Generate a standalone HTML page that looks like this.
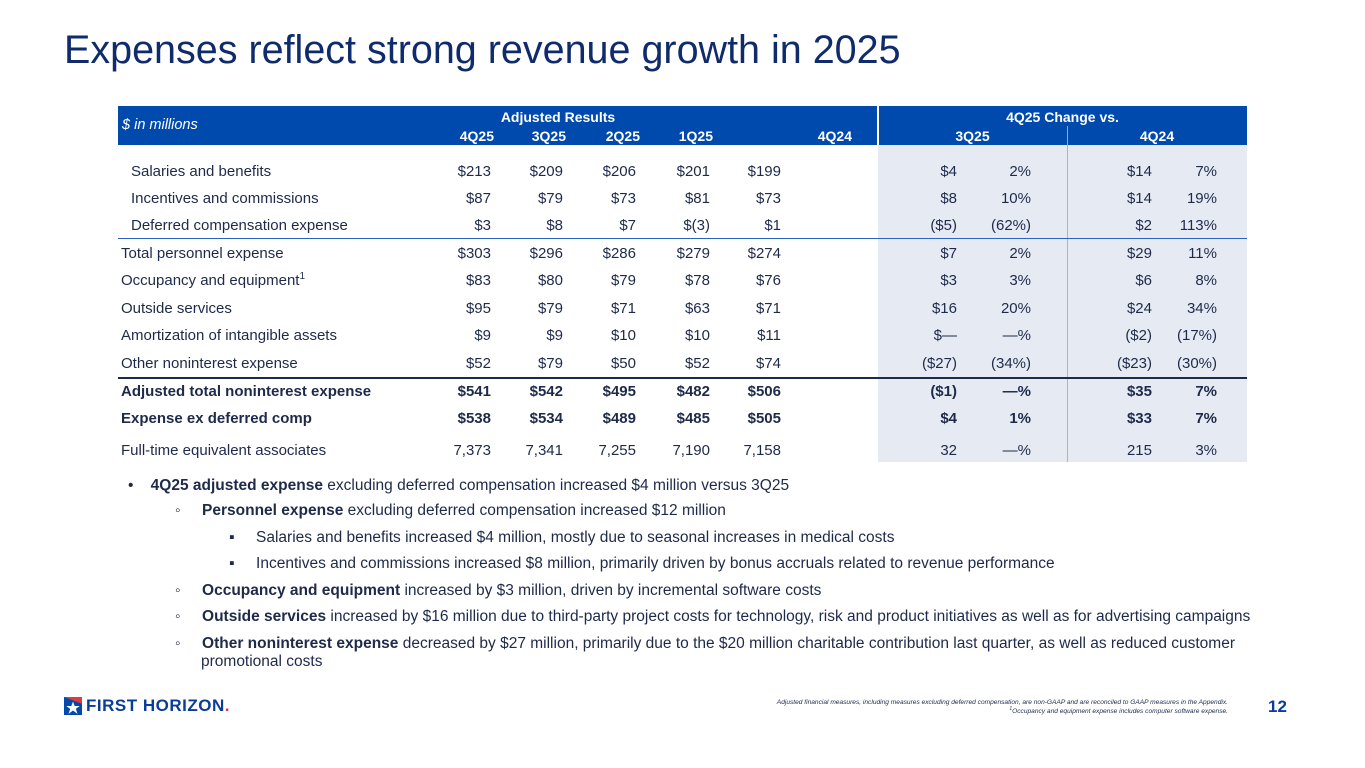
<!DOCTYPE html>
<html><head><meta charset="utf-8">
<style>
*{margin:0;padding:0;box-sizing:border-box}
body{width:1365px;height:768px;background:#fff;position:relative;overflow:hidden;font-family:"Liberation Sans",sans-serif;color:#1e2a4a}
.a{position:absolute;white-space:nowrap}
.t{font-size:15px;line-height:16px}
.r{text-align:right}
.b{font-weight:bold}
.hd{color:#fff;font-size:14px;font-weight:bold}
.bl{font-size:15.5px;line-height:17px}
sup{line-height:0;vertical-align:6px}
</style></head><body>
<div class="a" style="left:64px;top:28px;font-size:39.5px;color:#0f2b6b;">Expenses reflect strong revenue growth in 2025</div>

<div class="a" style="left:878px;top:145px;width:369px;height:317px;background:#e6ebf3"></div>
<div class="a" style="left:1067px;top:126px;width:1px;height:336px;background:#a9b4c6"></div>
<div class="a" style="left:118px;top:106px;width:1129px;height:39px;background:#0049ad"></div>
<div class="a" style="left:877px;top:106px;width:2px;height:39px;background:#fff"></div>
<div class="a" style="left:1067px;top:126px;width:1px;height:19px;background:#8fa8d8"></div>
<div class="a" style="left:122px;top:117px;color:#fff;font-size:14.5px;font-style:italic">$ in millions</div>
<div class="a hd" style="left:118px;width:760px;top:109px;text-align:center;padding-left:120px">Adjusted Results</div>
<div class="a hd" style="left:878px;width:369px;top:109px;text-align:center">4Q25 Change vs.</div>
<div class="a hd" style="left:878px;width:189px;top:128px;text-align:center">3Q25</div>
<div class="a hd" style="left:1067px;width:180px;top:128px;text-align:center">4Q24</div>
<div class="a" style="left:118px;top:238px;width:1129px;height:1px;background:#2a60c0"></div>
<div class="a" style="left:118px;top:377px;width:1129px;height:2px;background:#1e2a4a"></div>

<div id="tbl"></div>

<div class="a bl" style="left:128px;top:477px">•&nbsp;&nbsp;&nbsp;&nbsp;<b>4Q25 adjusted expense</b> excluding deferred compensation increased $4 million versus 3Q25</div>
<div class="a bl" style="left:175px;top:502px">◦&nbsp;&nbsp;&nbsp;&nbsp;&nbsp;<b>Personnel expense</b> excluding deferred compensation increased $12 million</div>
<div class="a bl" style="left:229px;top:529px">▪&nbsp;&nbsp;&nbsp;&nbsp;&nbsp;Salaries and benefits increased $4 million, mostly due to seasonal increases in medical costs</div>
<div class="a bl" style="left:229px;top:555px">▪&nbsp;&nbsp;&nbsp;&nbsp;&nbsp;Incentives and commissions increased $8 million, primarily driven by bonus accruals related to revenue performance</div>
<div class="a bl" style="left:175px;top:582px">◦&nbsp;&nbsp;&nbsp;&nbsp;&nbsp;<b>Occupancy and equipment</b> increased by $3 million, driven by incremental software costs</div>
<div class="a bl" style="left:175px;top:608px">◦&nbsp;&nbsp;&nbsp;&nbsp;&nbsp;<b>Outside services</b> increased by $16 million due to third-party project costs for technology, risk and product initiatives as well as for advertising campaigns</div>
<div class="a bl" style="left:175px;top:635px">◦&nbsp;&nbsp;&nbsp;&nbsp;&nbsp;<b>Other noninterest expense</b> decreased by $27 million, primarily due to the $20 million charitable contribution last quarter, as well as reduced customer</div>
<div class="a bl" style="left:201px;top:653px">promotional costs</div>

<div class="a" style="left:64px;top:696px;display:flex;align-items:center">
<svg width="18" height="18" viewBox="0 0 16 16"><rect width="16" height="16" fill="#0049ad"/><polygon points="0,0 16,0 16,6" fill="#e03a3e"/><polygon points="8,4 9.5,8 14,8 10.5,10.5 12,15 8,12 4,15 5.5,10.5 2,8 6.5,8" fill="#fff"/></svg>
<span style="margin-left:4px;font-weight:bold;font-size:17px;color:#0a3d99;letter-spacing:0.5px">FIRST HORIZON<span style="color:#e03a3e">.</span></span></div>
<div class="a r" style="right:137px;top:698px;font-size:6.6px;font-style:italic;line-height:9px;color:#1e2a4a">Adjusted financial measures, including measures excluding deferred compensation, are non-GAAP and are reconciled to GAAP measures in the Appendix.<br><sup style="font-size:5px;vertical-align:3px">1</sup>Occupancy and equipment expense includes computer software expense.</div>
<div class="a b" style="left:1268px;top:697px;font-size:17px;color:#0a3d99">12</div>

<script>
const labels=["Salaries and benefits","Incentives and commissions","Deferred compensation expense","Total personnel expense","Occupancy and equipment","Outside services","Amortization of intangible assets","Other noninterest expense","Adjusted total noninterest expense","Expense ex deferred comp","Full-time equivalent associates"];
const q4_25=["$213","$87","$3","$303","$83","$95","$9","$52","$541","$538","7,373"];
const q3_25=["$209","$79","$8","$296","$80","$79","$9","$79","$542","$534","7,341"];
const q2_25=["$206","$73","$7","$286","$79","$71","$10","$50","$495","$489","7,255"];
const q1_25=["$201","$81","$(3)","$279","$78","$63","$10","$52","$482","$485","7,190"];
const q4_24=["$199","$73","$1","$274","$76","$71","$11","$74","$506","$505","7,158"];
const chgQ$=["$4","$8","($5)","$7","$3","$16","$—","($27)","($1)","$4","32"];
const chgQp=["2%","10%","(62%)","2%","3%","20%","—%","(34%)","—%","1%","—%"];
const chgY$=["$14","$14","$2","$29","$6","$24","($2)","($23)","$35","$33","215"];
const chgYp=["7%","19%","113%","11%","8%","34%","(17%)","(30%)","7%","7%","3%"];
const rowY=[164,191,218,246,273,301,328,356,384,411,443];
const tbl=document.getElementById('tbl');
function cell(txt,left,right,top,bold,name){
  const d=document.createElement('div');
  d.className='a t'+(right?' r':'')+(bold?' b':'');
  d.style.top=top+'px';
  if(right){d.style.left=(right-120)+'px';d.style.width='120px';}else d.style.left=left+'px';
  d.textContent=txt;
  if(txt==="Occupancy and equipment"){const s=document.createElement('sup');s.textContent='1';s.style.fontSize='10px';d.appendChild(s);}
  
  
  tbl.appendChild(d);
}
const cols=[[q4_25,491,'4q25'],[q3_25,563,'3q25'],[q2_25,636,'2q25'],[q1_25,710,'1q25'],[q4_24,781,'4q24'],[chgQ$,957,'chg-3q25-dollar'],[chgQp,1031,'chg-3q25-pct'],[chgY$,1152,'chg-4q24-dollar'],[chgYp,1217,'chg-4q24-pct']];
labels.forEach((l,i)=>{
  const bold=(i===8||i===9);
  cell(l,(i<3?131:121),0,rowY[i],bold,'row-label');
  cols.forEach(c=>cell(c[0][i],0,c[1],rowY[i],bold,'cell-'+c[2]));
});
const hdr=[["4Q25",494],["3Q25",566],["2Q25",640],["1Q25",713],["4Q24",852]];
hdr.forEach(h=>{
  const d=document.createElement('div');
  d.className='a hd r';
  d.style.left=(h[1]-80)+'px';d.style.width='80px';d.style.top='128px';
  d.textContent=h[0];
  
  
  tbl.appendChild(d);
});
</script>
</body></html>
